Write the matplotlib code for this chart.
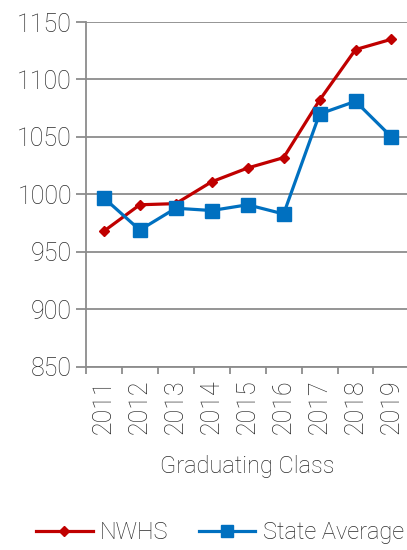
import matplotlib.pyplot as plt
import numpy as np

years = ["2011", "2012", "2013", "2014", "2015", "2016", "2017", "2018", "2019"]
nwhs = [968, 991, 992, 1011, 1023, 1032, 1082, 1126, 1135]
state_avg = [997, 969, 988, 986, 991, 983, 1070, 1081, 1050]

plt.rcParams['font.family'] = ['Roboto', 'DejaVu Sans']
plt.rcParams['font.weight'] = 'light'
plt.rcParams['axes.labelweight'] = 'light'

fig = plt.figure(figsize=(4.07, 5.5), dpi=100)
ax = fig.add_axes([0.211, 0.333, 0.795, 0.627])

x = np.arange(len(years))
grid_c = '#8c8c8c'
text_c = '#2b2b2b'

ax.plot(x, nwhs, color='#C00000', linewidth=2.3, marker='D', markersize=5,
        label='NWHS', zorder=3)
ax.plot(x, state_avg, color='#0070C0', linewidth=2.3, marker='s', markersize=10,
        label='State Average', zorder=3)

ax.set_ylim(850, 1150)
ax.set_yticks(np.arange(850, 1151, 50))
ax.set_xlim(-0.5, len(years) - 0.5)
ax.set_xticks(x)
ax.set_xticklabels(years, rotation=90)
ax.set_xticks(np.arange(-0.5, len(years), 1), minor=True)

ax.yaxis.grid(True, color=grid_c, linewidth=1.3)
ax.set_axisbelow(True)
for s in ['top', 'right', 'bottom']:
    ax.spines[s].set_visible(False)
ax.spines['left'].set_color(grid_c)
ax.spines['left'].set_linewidth(1.3)

ax.tick_params(axis='y', length=7, width=1.3, color=grid_c, labelsize=18,
               labelcolor=text_c, pad=3)
ax.tick_params(axis='x', which='major', length=0, labelsize=18,
               labelcolor=text_c, pad=9)
ax.tick_params(axis='x', which='minor', length=5, width=1.3, color=grid_c)
ax.axhline(850, color=grid_c, linewidth=1.3, zorder=1, clip_on=False)

ax.set_xlabel("Graduating Class", fontsize=17, color=text_c, labelpad=15,
              fontweight='light')

leg = fig.legend(loc='lower center', bbox_to_anchor=(0.54, -0.028), ncol=2,
                 frameon=False, fontsize=17, handlelength=2.4,
                 columnspacing=1.3, handletextpad=0.3)
for t in leg.get_texts():
    t.set_color(text_c)
leg.legend_handles[1].set_markersize(8)

fig.savefig("out.png", dpi=100)
